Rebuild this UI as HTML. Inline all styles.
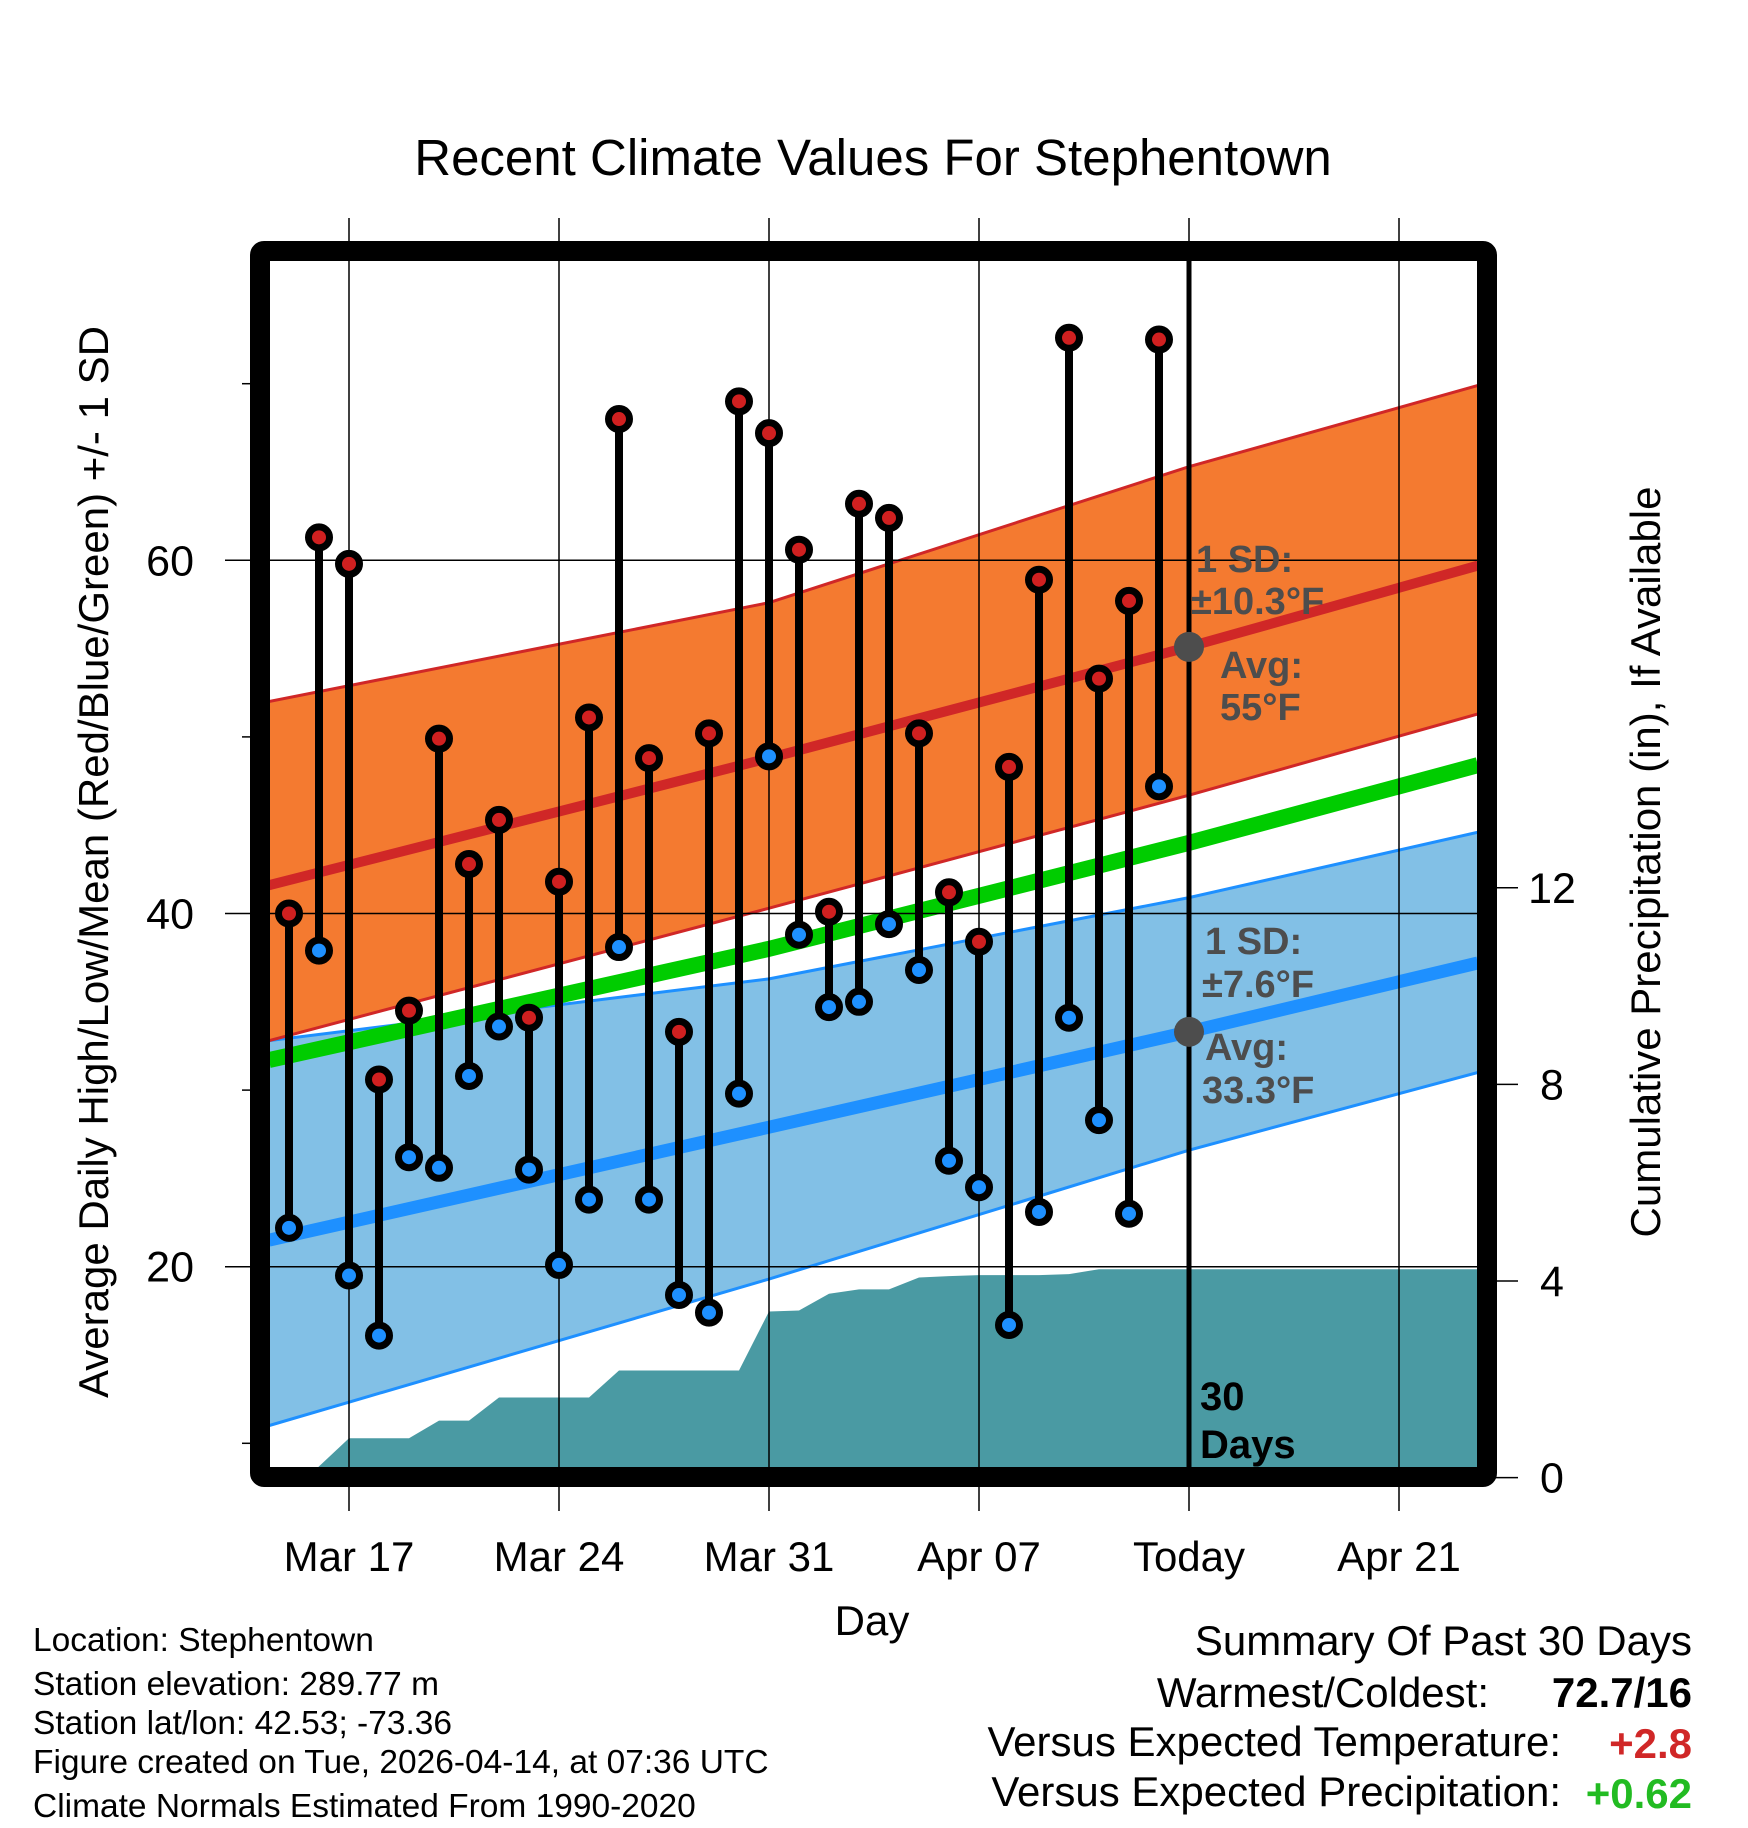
<!DOCTYPE html>
<html><head><meta charset="utf-8"><style>
html,body{margin:0;padding:0;background:#fff;}
svg{display:block;font-family:"Liberation Sans",sans-serif;}
</style></head><body>
<svg id="chart" xmlns="http://www.w3.org/2000/svg" width="1748" height="1828" viewBox="0 0 1748 1828">
<defs><clipPath id="plotclip"><rect x="269" y="260" width="1209" height="1207"/></clipPath></defs>
<g id="plot" clip-path="url(#plotclip)"></g>
<g id="over"></g>
</svg>
<script>
// ---- data ----
const dayLabels = ["Mar 17","Mar 24","Mar 31","Apr 07","Today","Apr 21"];
const dayTicks = [0,7,14,21,28,35];
const tempTicks = [20,40,60];
const tempMinorTicks = [10,30,50,70];
const precipTicks = [0,4,8,12];
const obsDays = [-2,-1,0,1,2,3,4,5,6,7,8,9,10,11,12,13,14,15,16,17,18,19,20,21,22,23,24,25,26,27];
const highs = [40.0,61.3,59.8,30.6,34.5,49.9,42.8,45.3,34.1,41.8,51.1,68.0,48.8,33.3,50.2,69.0,67.2,60.6,40.1,63.2,62.4,50.2,41.2,38.4,48.3,58.9,72.6,53.3,57.7,72.5];
const lows = [22.2,37.9,19.5,16.1,26.2,25.6,30.8,33.6,25.5,20.1,23.8,38.1,23.8,18.4,17.4,29.8,48.9,38.8,34.7,35.0,39.4,36.8,26.0,24.5,16.7,23.1,34.1,28.3,23.0,47.2];
const normDays = [-2.67,14,28,37.63];
const normHighMean = [41.6,48.8,55.1,59.7];
const normHighUpper = [52.0,57.6,65.3,69.9];
const normHighLower = [32.8,40.3,46.7,51.3];
const normMean = [31.7,38.0,44.0,48.4];
const normLowMean = [21.5,27.9,33.3,37.2];
const normLowUpper = [32.8,36.3,40.9,44.6];
const normLowLower = [11.0,19.3,26.6,31.0];
const precipDays = [-2,-1.4,0,1,2,3,4,5,6,7,8,9,10,11,12,13,14,15,16,17,18,19,20,21,22,23,24,25,26,27,28,37.63];
const precipCum = [0,0,0.8,0.8,0.8,1.16,1.16,1.63,1.63,1.63,1.63,2.18,2.18,2.18,2.18,2.18,3.38,3.40,3.74,3.83,3.83,4.07,4.10,4.12,4.12,4.12,4.14,4.24,4.24,4.24,4.24,4.24];

// ---- axes ----
const X = d => 349 + 30*d;
const Y = t => 1266.7 - (t-20)*17.66;
const P = p => 1477.6 - p*49.15;
const NS="http://www.w3.org/2000/svg";
const plot=document.getElementById('plot'), over=document.getElementById('over');
function mk(tag,attrs,parent){const e=document.createElementNS(NS,tag);for(const k in attrs)e.setAttribute(k,attrs[k]);parent.appendChild(e);return e;}
function txt(s,attrs,parent){const e=mk('text',attrs,parent);e.textContent=s;return e;}

function band(up,lo,fill,name){
  let d='M'+normDays.map((dd,i)=>X(dd)+','+Y(up[i])).join('L');
  d+='L'+normDays.slice().reverse().map((dd,i)=>X(dd)+','+Y(lo[lo.length-1-i])).join('L')+'Z';
  const e=mk('path',{d:d,fill:fill},plot);
  
  
}
function line(arr,stroke,w,name){
  const e=mk('polyline',{points:normDays.map((dd,i)=>X(dd)+','+Y(arr[i])).join(' '),fill:'none',stroke:stroke,'stroke-width':w},plot);
  
  
}
band(normLowUpper,normLowLower,'#82C0E6','low-sd-band');
line(normLowUpper,'#1E90FF',3,'low-upper-line');
line(normLowLower,'#1E90FF',3,'low-lower-line');
line(normLowMean,'#1E90FF',13,'low-mean-line');
band(normHighUpper,normHighLower,'#F47A30','high-sd-band');
line(normHighUpper,'#D02727',3,'high-upper-line');
line(normHighLower,'#D02727',3,'high-lower-line');
line(normHighMean,'#D02727',10,'high-mean-line');
line(normMean,'#00CC00',16,'mean-normal-line');
{
  let d='M'+X(precipDays[0])+','+P(0)+'L'+precipDays.map((dd,i)=>X(dd)+','+P(precipCum[i])).join('L')+'L'+X(precipDays[precipDays.length-1])+','+P(0)+'L'+X(precipDays[precipDays.length-1])+',1490L'+X(precipDays[0])+',1490Z';
  const e=mk('path',{d:d,fill:'#4A9AA3'},plot);
  
  
}
dayTicks.forEach((d,i)=>{
  const e=mk('line',{x1:X(d),x2:X(d),y1:218,y2:1511,stroke:'#000','stroke-width':1.5},over);
  
  
  const t=txt(dayLabels[i],{x:X(d),y:1571,'text-anchor':'middle','font-size':42},over);
  
  
});
tempTicks.forEach(t=>{
  const e=mk('line',{x1:225,x2:1478,y1:Y(t),y2:Y(t),stroke:'#000','stroke-width':1.5},over);
  
  
  const l=txt(String(t),{x:194,y:Y(t)+15,'text-anchor':'end','font-size':43},over);
  
  
});
tempMinorTicks.forEach(t=>{
  const e=mk('line',{x1:242,x2:252,y1:Y(t),y2:Y(t),stroke:'#000','stroke-width':1.5},over);
  
  
});
precipTicks.forEach(p=>{
  const e=mk('line',{x1:1496,x2:1518,y1:P(p),y2:P(p),stroke:'#000','stroke-width':1.5},over);
  
  
  const l=txt(String(p),{x:1552,y:P(p)+15,'text-anchor':'middle','font-size':43},over);
  
  
});
{
  const e=mk('line',{x1:X(28),x2:X(28),y1:260,y2:1470,stroke:'#000','stroke-width':5},over);
  
  
}
obsDays.forEach((d,i)=>{
  const s=mk('line',{x1:X(d),x2:X(d),y1:Y(highs[i]),y2:Y(lows[i]),stroke:'#000','stroke-width':8},over);
  
  
});
obsDays.forEach((d,i)=>{
  const h=mk('circle',{cx:X(d),cy:Y(highs[i]),r:10.5,fill:'#D02020',stroke:'#000','stroke-width':7},over);
  
  
  const l=mk('circle',{cx:X(d),cy:Y(lows[i]),r:10.5,fill:'#1E90FF',stroke:'#000','stroke-width':7},over);
  
  
});
[[normHighMean[2],'high-avg-dot'],[normLowMean[2],'low-avg-dot']].forEach(a=>{
  const c=mk('circle',{cx:X(28),cy:Y(a[0]),r:15,fill:'#4d4d4d'},over);
  
  
});
</script>
<svg style="position:absolute;left:0;top:0" width="1748" height="1828" viewBox="0 0 1748 1828">
<rect x="260" y="251" width="1227" height="1226" fill="none" stroke="#000" stroke-width="20" rx="4"/>
<g font-family="Liberation Sans, sans-serif" font-weight="bold" fill="#4d4d4d" font-size="38">
<text x="1196" y="572">1 SD:</text>
<text x="1191" y="614">±10.3°F</text>
<text x="1220" y="678">Avg:</text>
<text x="1220" y="720">55°F</text>
<text x="1205" y="954">1 SD:</text>
<text x="1202" y="997">±7.6°F</text>
<text x="1205" y="1060">Avg:</text>
<text x="1202" y="1103">33.3°F</text>
</g>
<g font-family="Liberation Sans, sans-serif" font-weight="bold" fill="#000" font-size="40">
<text x="1200" y="1410">30</text>
<text x="1200" y="1458">Days</text>
</g>
<g font-family="Liberation Sans, sans-serif" fill="#000">
<text x="873" y="175" text-anchor="middle" font-size="51">Recent Climate Values For Stephentown</text>
<text x="872" y="1635" text-anchor="middle" font-size="42">Day</text>
<text transform="translate(108,862) rotate(-90)" text-anchor="middle" font-size="42">Average Daily High/Low/Mean (Red/Blue/Green) +/- 1 SD</text>
<text transform="translate(1660,862) rotate(-90)" text-anchor="middle" font-size="42">Cumulative Precipitation (in), If Available</text>
<g font-size="33.5">
<text x="33" y="1651">Location: Stephentown</text>
<text x="33" y="1695">Station elevation: 289.77 m</text>
<text x="33" y="1734">Station lat/lon: 42.53; -73.36</text>
<text x="33" y="1773">Figure created on Tue, 2026-04-14, at 07:36 UTC</text>
<text x="33" y="1817">Climate Normals Estimated From 1990-2020</text>
</g>
<g font-size="42">
<text x="1692" y="1655" text-anchor="end">Summary Of Past 30 Days</text>
<text x="1489" y="1707" text-anchor="end">Warmest/Coldest:</text>
<text x="1692" y="1707" text-anchor="end" font-weight="bold">72.7/16</text>
<text x="1561" y="1756" text-anchor="end">Versus Expected Temperature:</text>
<text x="1692" y="1758" text-anchor="end" font-weight="bold" fill="#D02727">+2.8</text>
<text x="1561" y="1806" text-anchor="end">Versus Expected Precipitation:</text>
<text x="1692" y="1808" text-anchor="end" font-weight="bold" fill="#22BB22">+0.62</text>
</g>
</g>
</svg>
</body></html>
